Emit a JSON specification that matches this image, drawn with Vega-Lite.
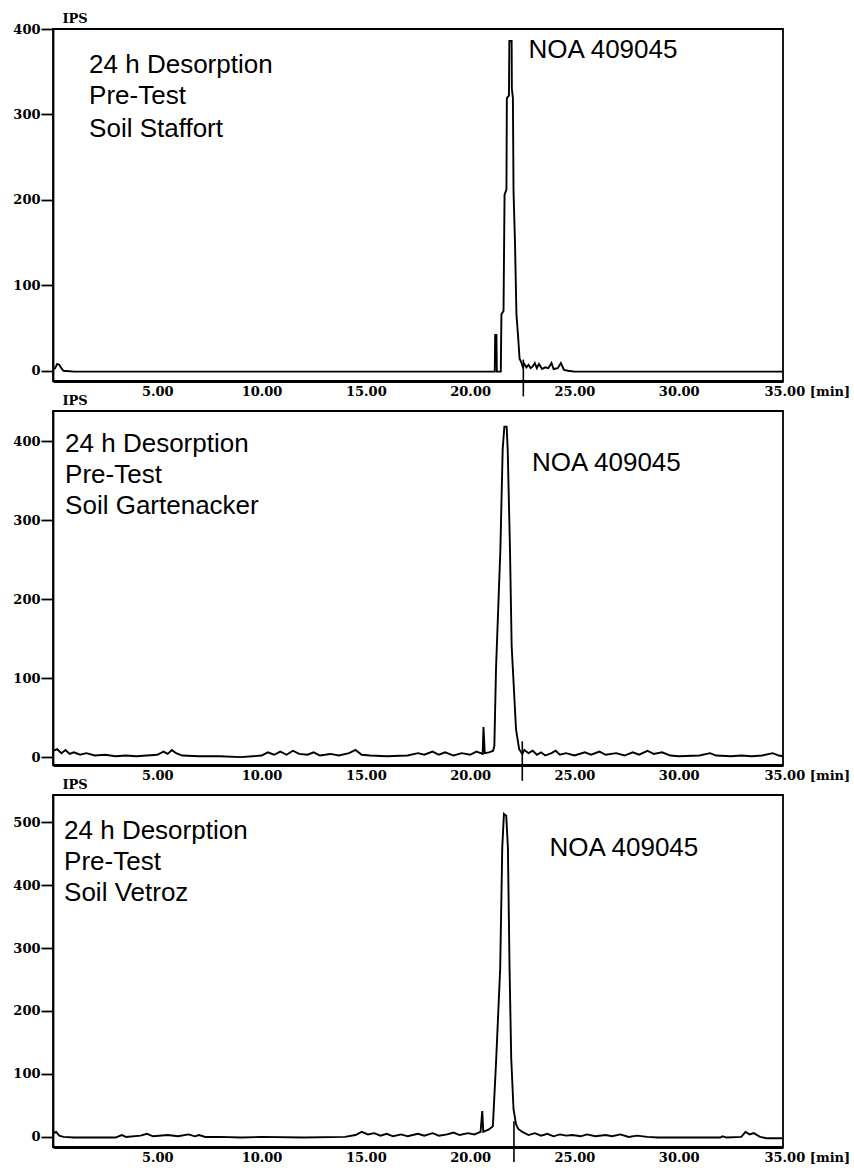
{
  "$schema": "https://vega.github.io/schema/vega-lite/v6.json",
  "background": "white",
  "padding": {"left": 11, "top": 11, "right": 2, "bottom": 5},
  "bounds": "flush",
  "spacing": 30,
  "config": {
    "view": {"stroke": "black", "strokeWidth": 1.8},
    "axis": {"grid": false, "domainColor": "black", "domainWidth": 1.8, "tickColor": "black", "tickWidth": 1.8, "labelColor": "black", "labelFont": "DejaVu Serif", "labelFontWeight": "bold", "labelFontSize": 13, "titleFont": "DejaVu Serif", "titleFontWeight": "bold", "titleFontSize": 13, "titleColor": "black"},
    "text": {"font": "Liberation Sans", "fontSize": 26, "align": "left", "baseline": "alphabetic", "color": "black"},
    "line": {"color": "black", "strokeWidth": 1.9},
    "rule": {"color": "black", "strokeWidth": 1.6}
  },
  "datasets": {
    "s1": [
      {"t":0,"v":2},{"t":0.1,"v":3},{"t":0.2,"v":8},{"t":0.3,"v":7},{"t":0.4,"v":3},{"t":0.5,"v":0},{"t":1,"v":-1},{"t":3,"v":-1},{"t":6,"v":-1},{"t":10,"v":-1},{"t":15,"v":-1},{"t":20,"v":-1},
      {"t":21.18,"v":-1},{"t":21.2,"v":42},{"t":21.26,"v":42},{"t":21.28,"v":-1},{"t":21.47,"v":-1},{"t":21.5,"v":66},{"t":21.6,"v":70},{"t":21.65,"v":206},{"t":21.74,"v":212},{"t":21.76,"v":319},{"t":21.86,"v":322},{"t":21.88,"v":386},{"t":21.99,"v":386},{"t":22.0,"v":330},{"t":22.05,"v":319},{"t":22.08,"v":210},{"t":22.15,"v":150},{"t":22.22,"v":66},{"t":22.3,"v":40},{"t":22.37,"v":14},{"t":22.45,"v":10},
      {"t":22.52,"v":5},{"t":22.6,"v":8},{"t":22.7,"v":4},{"t":22.8,"v":7},{"t":22.9,"v":3},{"t":23.0,"v":5},{"t":23.1,"v":9},{"t":23.2,"v":3},{"t":23.3,"v":8},{"t":23.45,"v":2},{"t":23.6,"v":4},{"t":23.75,"v":3},{"t":23.9,"v":9},{"t":24.0,"v":2},{"t":24.2,"v":3},{"t":24.35,"v":9},{"t":24.5,"v":1},{"t":24.7,"v":0},{"t":25,"v":-1},{"t":30,"v":-1},{"t":35,"v":-1}
    ],
    "s2": [
      {"t":0,"v":8},{"t":0.2,"v":10},{"t":0.4,"v":5},{"t":0.6,"v":9},{"t":0.8,"v":4},{"t":1.0,"v":6},{"t":1.3,"v":3},{"t":1.6,"v":5},{"t":2.0,"v":2},{"t":2.5,"v":3},{"t":3.0,"v":1},{"t":3.5,"v":2},{"t":4.0,"v":1},{"t":4.5,"v":2},{"t":5.0,"v":3},{"t":5.3,"v":7},{"t":5.5,"v":4},{"t":5.7,"v":9},{"t":5.9,"v":5},{"t":6.2,"v":2},{"t":7,"v":1},{"t":8,"v":1},{"t":9,"v":0},
      {"t":10.0,"v":2},{"t":10.3,"v":6},{"t":10.6,"v":3},{"t":10.9,"v":7},{"t":11.2,"v":3},{"t":11.5,"v":8},{"t":11.8,"v":4},{"t":12.2,"v":3},{"t":12.5,"v":6},{"t":12.8,"v":2},{"t":13.3,"v":4},{"t":13.7,"v":2},{"t":14.2,"v":5},{"t":14.5,"v":9},{"t":14.8,"v":3},{"t":15.2,"v":2},{"t":16,"v":1},{"t":17,"v":2},{"t":17.5,"v":5},{"t":17.8,"v":3},{"t":18.2,"v":7},{"t":18.5,"v":3},{"t":18.8,"v":6},{"t":19.2,"v":2},{"t":19.6,"v":5},{"t":20.0,"v":3},{"t":20.3,"v":7},{"t":20.6,"v":4},
      {"t":20.64,"v":38},{"t":20.7,"v":5},{"t":20.9,"v":6},{"t":21.1,"v":8},{"t":21.16,"v":14},{"t":21.24,"v":111},{"t":21.45,"v":263},{"t":21.56,"v":390},{"t":21.64,"v":418},{"t":21.75,"v":418},{"t":21.8,"v":390},{"t":21.91,"v":263},{"t":21.99,"v":141},{"t":22.2,"v":35},{"t":22.35,"v":10},
      {"t":22.5,"v":4},{"t":22.6,"v":9},{"t":22.8,"v":5},{"t":23.0,"v":8},{"t":23.2,"v":3},{"t":23.4,"v":6},{"t":23.6,"v":2},{"t":23.9,"v":5},{"t":24.1,"v":8},{"t":24.3,"v":3},{"t":24.6,"v":5},{"t":25.0,"v":2},{"t":25.5,"v":6},{"t":25.8,"v":3},{"t":26.2,"v":7},{"t":26.5,"v":3},{"t":27,"v":5},{"t":27.4,"v":2},{"t":27.8,"v":6},{"t":28.1,"v":3},{"t":28.5,"v":8},{"t":28.8,"v":4},{"t":29.2,"v":6},{"t":29.6,"v":2},{"t":30,"v":1},{"t":31,"v":2},{"t":31.5,"v":5},{"t":31.8,"v":2},{"t":32.5,"v":1},{"t":33,"v":2},{"t":33.5,"v":1},{"t":34,"v":2},{"t":34.5,"v":5},{"t":34.8,"v":2},{"t":35,"v":1}
    ],
    "s3": [
      {"t":0,"v":6},{"t":0.15,"v":8},{"t":0.3,"v":2},{"t":0.5,"v":0},{"t":1,"v":-1},{"t":3,"v":-1},{"t":3.3,"v":3},{"t":3.5,"v":0},{"t":4.2,"v":2},{"t":4.5,"v":5},{"t":4.8,"v":1},{"t":5.5,"v":3},{"t":6.0,"v":1},{"t":6.5,"v":4},{"t":6.8,"v":1},{"t":7,"v":3},{"t":7.3,"v":0},{"t":8,"v":0},{"t":9,"v":-1},{"t":10,"v":0},{"t":12,"v":-1},{"t":14,"v":0},
      {"t":14.5,"v":3},{"t":14.8,"v":8},{"t":15.1,"v":4},{"t":15.4,"v":6},{"t":15.7,"v":2},{"t":16,"v":5},{"t":16.3,"v":1},{"t":16.7,"v":4},{"t":17,"v":1},{"t":17.5,"v":5},{"t":17.8,"v":2},{"t":18.2,"v":6},{"t":18.5,"v":2},{"t":18.9,"v":4},{"t":19.2,"v":7},{"t":19.5,"v":3},{"t":19.9,"v":6},{"t":20.2,"v":4},{"t":20.5,"v":8},
      {"t":20.58,"v":41},{"t":20.63,"v":8},{"t":20.9,"v":12},{"t":21.09,"v":17},{"t":21.25,"v":124},{"t":21.44,"v":267},{"t":21.54,"v":460},{"t":21.62,"v":513},{"t":21.73,"v":510},{"t":21.81,"v":460},{"t":21.89,"v":267},{"t":21.97,"v":124},{"t":22.08,"v":44},{"t":22.2,"v":20},{"t":22.3,"v":13},
      {"t":22.5,"v":8},{"t":22.8,"v":3},{"t":23.1,"v":6},{"t":23.4,"v":2},{"t":23.7,"v":5},{"t":24,"v":1},{"t":24.3,"v":4},{"t":24.6,"v":2},{"t":24.9,"v":3},{"t":25.3,"v":1},{"t":25.6,"v":4},{"t":26,"v":1},{"t":26.5,"v":3},{"t":26.8,"v":1},{"t":27.2,"v":4},{"t":27.6,"v":0},{"t":28,"v":2},{"t":28.5,"v":0},{"t":29,"v":-1},{"t":30,"v":-1},{"t":32,"v":-1},{"t":32.1,"v":1},{"t":32.3,"v":-1},{"t":33,"v":0},{"t":33.2,"v":8},{"t":33.4,"v":4},{"t":33.6,"v":6},{"t":33.9,"v":0},{"t":34.2,"v":-2},{"t":35,"v":-2}
    ],
    "m1": [{"t":22.55,"y1":13,"y2":-30}],
    "m2": [{"t":22.5,"y1":20,"y2":-30}],
    "m3": [{"t":22.1,"y1":25,"y2":-40}],
    "a1": [{"t":1.73,"v":348,"label":"24 h Desorption"},{"t":1.73,"v":312,"label":"Pre-Test"},{"t":1.73,"v":274,"label":"Soil Staffort"},{"t":22.8,"v":366,"label":"NOA 409045"}],
    "a2": [{"t":0.58,"v":386,"label":"24 h Desorption"},{"t":0.58,"v":347,"label":"Pre-Test"},{"t":0.58,"v":308,"label":"Soil Gartenacker"},{"t":22.96,"v":362,"label":"NOA 409045"}],
    "a3": [{"t":0.53,"v":473,"label":"24 h Desorption"},{"t":0.53,"v":424,"label":"Pre-Test"},{"t":0.53,"v":375,"label":"Soil Vetroz"},{"t":23.8,"v":446,"label":"NOA 409045"}]
  },
  "vconcat": [
    {
      "width": 730, "height": 352,
      "layer": [
        {"data": {"name": "s1"}, "mark": {"type": "line"},
         "encoding": {
           "x": {"field": "t", "type": "quantitative", "scale": {"domain": [0, 35], "nice": false, "zero": false},
                 "axis": {"title": null, "values": [5,10,15,20,25,30,35], "ticks": false, "labelPadding": 4, "domainWidth": 3, "labelFlush": false, "labelOverlap": false,
                          "labelExpr": "datum.value == 35 ? '35.00 [min]' : format(datum.value, '.2f')",
                          "labelAlign": {"condition": {"test": "datum.value == 35", "value": "left"}, "value": "center"},
                          "labelOffset": {"condition": {"test": "datum.value == 35", "value": -19}, "value": 0}}},
           "y": {"field": "v", "type": "quantitative", "scale": {"domain": [-12, 400], "nice": false, "zero": false},
                 "axis": {"title": "IPS", "values": [0,100,200,300,400], "tickSize": 12, "labelPadding": 1, "titleAngle": 0, "titleAlign": "left", "titleBaseline": "bottom", "titleX": 9, "titleY": -4}}
         }},
        {"data": {"name": "m1"}, "mark": {"type": "rule"},
         "encoding": {"x": {"field": "t", "type": "quantitative"}, "y": {"field": "y1", "type": "quantitative"}, "y2": {"field": "y2"}}},
        {"data": {"name": "a1"}, "mark": {"type": "text"},
         "encoding": {"x": {"field": "t", "type": "quantitative"}, "y": {"field": "v", "type": "quantitative"}, "text": {"field": "label"}}}
      ]
    },
    {
      "width": 730, "height": 354,
      "layer": [
        {"data": {"name": "s2"}, "mark": {"type": "line"},
         "encoding": {
           "x": {"field": "t", "type": "quantitative", "scale": {"domain": [0, 35], "nice": false, "zero": false},
                 "axis": {"title": null, "values": [5,10,15,20,25,30,35], "ticks": false, "labelPadding": 4, "domainWidth": 3, "labelFlush": false, "labelOverlap": false,
                          "labelExpr": "datum.value == 35 ? '35.00 [min]' : format(datum.value, '.2f')",
                          "labelAlign": {"condition": {"test": "datum.value == 35", "value": "left"}, "value": "center"},
                          "labelOffset": {"condition": {"test": "datum.value == 35", "value": -19}, "value": 0}}},
           "y": {"field": "v", "type": "quantitative", "scale": {"domain": [-10, 438], "nice": false, "zero": false},
                 "axis": {"title": "IPS", "values": [0,100,200,300,400], "tickSize": 12, "labelPadding": 1, "titleAngle": 0, "titleAlign": "left", "titleBaseline": "bottom", "titleX": 9, "titleY": -4}}
         }},
        {"data": {"name": "m2"}, "mark": {"type": "rule"},
         "encoding": {"x": {"field": "t", "type": "quantitative"}, "y": {"field": "y1", "type": "quantitative"}, "y2": {"field": "y2"}}},
        {"data": {"name": "a2"}, "mark": {"type": "text"},
         "encoding": {"x": {"field": "t", "type": "quantitative"}, "y": {"field": "v", "type": "quantitative"}, "text": {"field": "label"}}}
      ]
    },
    {
      "width": 730, "height": 352,
      "layer": [
        {"data": {"name": "s3"}, "mark": {"type": "line"},
         "encoding": {
           "x": {"field": "t", "type": "quantitative", "scale": {"domain": [0, 35], "nice": false, "zero": false},
                 "axis": {"title": null, "values": [5,10,15,20,25,30,35], "ticks": false, "labelPadding": 4, "domainWidth": 3, "labelFlush": false, "labelOverlap": false,
                          "labelExpr": "datum.value == 35 ? '35.00 [min]' : format(datum.value, '.2f')",
                          "labelAlign": {"condition": {"test": "datum.value == 35", "value": "left"}, "value": "center"},
                          "labelOffset": {"condition": {"test": "datum.value == 35", "value": -19}, "value": 0}}},
           "y": {"field": "v", "type": "quantitative", "scale": {"domain": [-16, 543], "nice": false, "zero": false},
                 "axis": {"title": "IPS", "values": [0,100,200,300,400,500], "tickSize": 12, "labelPadding": 1, "titleAngle": 0, "titleAlign": "left", "titleBaseline": "bottom", "titleX": 9, "titleY": -4}}
         }},
        {"data": {"name": "m3"}, "mark": {"type": "rule"},
         "encoding": {"x": {"field": "t", "type": "quantitative"}, "y": {"field": "y1", "type": "quantitative"}, "y2": {"field": "y2"}}},
        {"data": {"name": "a3"}, "mark": {"type": "text"},
         "encoding": {"x": {"field": "t", "type": "quantitative"}, "y": {"field": "v", "type": "quantitative"}, "text": {"field": "label"}}}
      ]
    }
  ]
}
